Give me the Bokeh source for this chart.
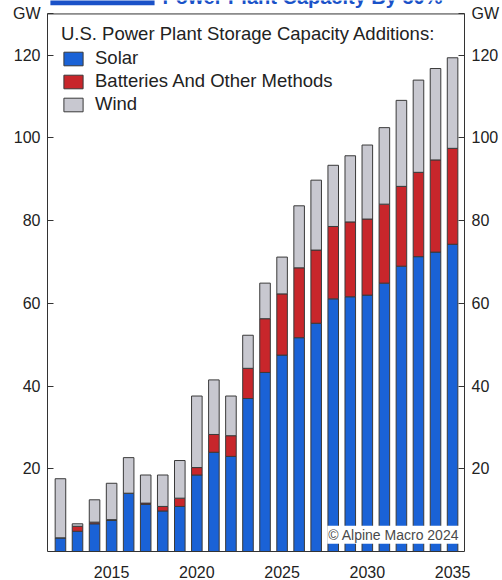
from bokeh.plotting import figure
from bokeh.models import (ColumnDataSource, LinearAxis, FixedTicker, Range1d,
                          Label, BoxAnnotation, Span)
from bokeh.embed import file_html
from bokeh.resources import INLINE

# U.S. power plant storage capacity additions, GW
years = list(range(2012, 2036))
solar = [3.3, 4.9, 6.7, 7.5, 14.1, 11.4, 9.8, 10.9, 18.5, 24.0, 23.0, 37.0,
         43.3, 47.5, 51.7, 55.2, 61.1, 61.6, 62.0, 64.9, 69.0, 71.3, 72.4, 74.3]
batteries = [0.0, 1.2, 0.4, 0.2, 0.0, 0.3, 1.1, 2.0, 1.8, 4.3, 5.0, 7.3,
             13.0, 14.8, 16.9, 17.7, 17.5, 18.1, 18.4, 19.1, 19.3, 20.4, 22.3, 23.2]
wind = [14.3, 0.6, 5.4, 8.8, 8.6, 6.8, 7.6, 9.1, 17.3, 13.2, 9.6, 8.0,
        8.6, 8.9, 15.0, 16.9, 14.8, 16.0, 17.9, 18.5, 20.8, 22.3, 22.1, 21.9]

series = ["solar", "batteries", "wind"]
series_names = ["Solar", "Batteries And Other Methods", "Wind"]
series_colors = ["#1a62d6", "#c8262b", "#c8c8d0"]

y_ticks = [20, 40, 60, 80, 100, 120]
y_top = 130          # top of the boxed chart area; the unit sits on it
unit = "GW"
x_ticks = [2015, 2020, 2025, 2030, 2035]

FONT = "Liberation Sans"
TEXT = "#222222"
LINE = "#333333"

src = ColumnDataSource(dict(year=years, solar=solar, batteries=batteries, wind=wind))

# the frame runs to the top edge so the header strip can sit above the box
p = figure(width=502, height=580, output_backend="svg", toolbar_location=None,
           x_range=Range1d(2011.24, 2035.7), y_range=Range1d(0, 133.25),
           min_border_left=47, min_border_right=36, min_border_top=0,
           min_border_bottom=27)

p.vbar_stack(series, x="year", width=0.62, source=src, color=series_colors,
             line_color="#3a3a3a", line_width=1, legend_label=series_names)

p.xgrid.visible = False
p.ygrid.visible = False
p.background_fill_color = "white"
p.border_fill_color = "white"
p.outline_line_color = None

# top edge of the box
p.add_layout(Span(location=y_top, dimension="width", line_color=LINE, line_width=1))

# left and right value axes with inward ticks; the unit is written at the top
ticks = y_ticks + [y_top]
right = LinearAxis()
p.add_layout(right, "right")
for ax in (p.yaxis[0], right):
    ax.ticker = FixedTicker(ticks=ticks)
    ax.major_label_overrides = {y_top: unit}
    ax.bounds = (0, y_top)
    ax.major_tick_in = 6
    ax.major_tick_out = 0
    ax.minor_tick_line_color = None
    ax.axis_line_color = LINE
    ax.major_tick_line_color = LINE
    ax.major_label_text_font = FONT
    ax.major_label_text_font_size = "16px"
    ax.major_label_text_color = TEXT
    ax.major_label_standoff = 7

xa = p.xaxis[0]
xa.ticker = FixedTicker(ticks=x_ticks)
xa.major_tick_line_color = None
xa.minor_tick_line_color = None
xa.axis_line_color = LINE
xa.major_label_text_font = FONT
xa.major_label_text_font_size = "16px"
xa.major_label_text_color = TEXT
xa.major_label_standoff = 8

# legend with title in the upper-left corner of the box
lg = p.legend[0]
lg.location = (14, 436)
lg.title = "U.S. Power Plant Storage Capacity Additions:"
lg.title_text_font = FONT
lg.title_text_font_size = "18.5px"
lg.title_text_font_style = "normal"
lg.title_text_color = TEXT
lg.title_standoff = 2
lg.label_text_font = FONT
lg.label_text_font_size = "18.5px"
lg.label_text_color = TEXT
lg.label_standoff = 10
lg.glyph_width = 24
lg.glyph_height = 17
lg.label_height = 20
lg.spacing = 1
lg.margin = 0
lg.padding = 6
lg.border_line_color = None
lg.background_fill_alpha = 0.0

# header strip at the top edge
p.add_layout(BoxAnnotation(left=2011.41, right=2017.52, top=134.0, bottom=132.1,
                           fill_color="#1a52c8", fill_alpha=1.0, line_color=None))
p.add_layout(Label(x=2017.98, y=134.0, text="Power Plant Capacity By 50%",
                   text_font=FONT, text_font_size="20px", text_font_style="bold",
                   text_color="#1a52c8", text_align="left",
                   text_baseline="alphabetic"))

# source note
p.add_layout(Label(x=2035.45, y=1.9, text="\u00a9 Alpine Macro 2024",
                   text_font=FONT, text_font_size="14px", text_color="#4a4a4a",
                   text_align="right", text_baseline="bottom",
                   background_fill_color="white", background_fill_alpha=1.0,
                   padding=1))

open("out.html", "w").write(file_html(p, INLINE))
